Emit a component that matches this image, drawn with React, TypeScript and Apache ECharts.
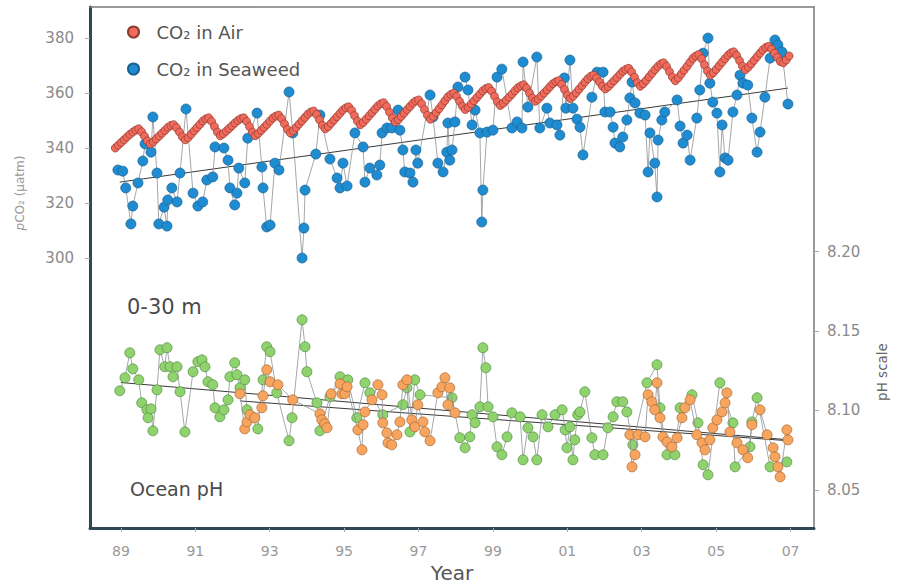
import React, { useEffect, useRef } from "react";
import * as echarts from "echarts";

// ---------- data ----------
const yearTicks = [1989, 1991, 1993, 1995, 1997, 1999, 2001, 2003, 2005, 2007];
const co2Ticks = [300, 320, 340, 360, 380];
const phTicks = [8.05, 8.1, 8.15, 8.2];

// CO2 in air: regularly sampled from airStart every airStep years
const airStart = 1988.85;
const airStep = 0.0784;
const airCO2 = [
  340, 341, 342, 343, 344, 345, 345.8, 346.5,
  347, 345.9, 344.3, 342.6, 341.5, 342.2, 343.3, 344.3, 345.4, 346.4, 347.5, 348.2,
  348.5, 347.4, 345.8, 344.1, 343, 343.8, 345, 346.2, 347.4, 348.6, 349.8, 350.6,
  351, 349.7, 347.8, 345.8, 344.5, 345.2, 346.1, 347.1, 348.1, 349.1, 350, 350.7,
  351, 349.7, 347.8, 345.8, 344.5, 345.3, 346.4, 347.5, 348.6, 349.8, 350.9, 351.6,
  352, 350.7, 348.8, 346.8, 345.5, 346.3, 347.5, 348.7, 349.9, 351.1, 352.3, 353.1,
  353.5, 352.2, 350.3, 348.3, 347, 347.8, 349, 350.2, 351.4, 352.6, 353.8, 354.6,
  355, 353.7, 351.8, 349.8, 348.5, 349.3, 350.5, 351.7, 352.9, 354.1, 355.3, 356.1,
  356.5, 355.1, 353, 350.9, 349.5, 350.3, 351.5, 352.7, 353.9, 355.1, 356.3, 357.1,
  357.5, 356.1, 354, 351.9, 350.5, 351.5, 352.9, 354.3, 355.7, 357.2, 358.6, 359.5,
  360, 358.8, 357, 355.2, 354, 354.8, 356, 357.2, 358.4, 359.6, 360.8, 361.6,
  362, 360.7, 358.8, 356.8, 355.5, 356.3, 357.4, 358.5, 359.6, 360.8, 361.9, 362.6,
  363, 361.8, 360, 358.2, 357, 357.8, 358.9, 360, 361.1, 362.3, 363.4, 364.1,
  364.5, 363.2, 361.3, 359.3, 358, 358.9, 360.1, 361.4, 362.7, 364, 365.2, 366.1,
  366.5, 365.5, 364, 362.5, 361.5, 362.3, 363.4, 364.5, 365.6, 366.8, 367.9, 368.6,
  369, 367.7, 365.8, 363.8, 362.5, 363.4, 364.6, 365.9, 367.2, 368.5, 369.7, 370.6,
  371, 369.7, 367.8, 365.8, 364.5, 365.5, 366.9, 368.3, 369.7, 371.2, 372.6, 373.5,
  374, 372.5, 370.3, 368, 366.5, 367.4, 368.6, 369.9, 371.2, 372.5, 373.7, 374.6,
  375, 373.7, 371.8, 369.8, 368.5, 369.4, 370.6, 371.9, 373.2, 374.5, 375.7, 376.6,
  377, 376, 374.5, 373, 371.5, 371, 372, 373.5,
];

// CO2 in seaweed: [year, pCO2]
const seaweedCO2: [number, number][] = [
  [1988.92, 332.0], [1989.05, 331.6], [1989.13, 325.5], [1989.27, 312.4], [1989.32, 318.9],
  [1989.46, 327.3], [1989.59, 335.3], [1989.65, 341.5], [1989.81, 338.5], [1989.86, 351.3],
  [1989.97, 330.9], [1990.02, 312.4], [1990.16, 318.5], [1990.24, 311.6], [1990.26, 321.1],
  [1990.37, 325.5], [1990.51, 320.4], [1990.59, 330.9], [1990.75, 354.2], [1990.94, 323.6],
  [1991.07, 318.9], [1991.2, 320.4], [1991.31, 328.4], [1991.47, 329.5], [1991.53, 340.4],
  [1991.77, 340.0], [1991.88, 335.6], [1991.93, 325.5], [1992.06, 319.3], [1992.12, 323.6],
  [1992.17, 332.7], [1992.33, 327.3], [1992.41, 343.6], [1992.66, 352.7], [1992.79, 333.1],
  [1992.82, 325.5], [1992.92, 311.3], [1993.01, 312.0], [1993.14, 334.5], [1993.25, 332.0],
  [1993.52, 360.4], [1993.62, 345.5], [1993.87, 300.0], [1993.92, 310.9], [1993.95, 324.7],
  [1994.24, 337.8], [1994.35, 352.0], [1994.62, 336.0], [1994.81, 329.1], [1994.89, 325.5],
  [1994.97, 334.5], [1995.08, 326.2], [1995.29, 345.5], [1995.51, 340.4], [1995.56, 327.6],
  [1995.69, 332.7], [1995.88, 330.2], [1995.96, 333.8], [1996.02, 345.5], [1996.15, 347.3],
  [1996.28, 347.3], [1996.45, 353.8], [1996.5, 346.5], [1996.58, 339.3], [1996.63, 331.3],
  [1996.77, 330.9], [1996.85, 327.6], [1996.93, 339.3], [1996.98, 334.5], [1997.31, 359.3],
  [1997.39, 351.3], [1997.52, 334.5], [1997.66, 331.3], [1997.76, 338.5], [1997.79, 349.1],
  [1997.84, 335.6], [1997.9, 339.3], [1997.98, 349.5], [1998.06, 362.2], [1998.25, 365.8],
  [1998.33, 361.1], [1998.44, 348.4], [1998.52, 353.8], [1998.65, 345.5], [1998.7, 313.1],
  [1998.73, 324.7], [1998.84, 345.8], [1999.0, 346.5], [1999.11, 365.8], [1999.24, 368.7],
  [1999.51, 347.3], [1999.65, 349.5], [1999.78, 347.3], [1999.81, 371.3], [1999.94, 354.9],
  [2000.18, 373.1], [2000.26, 347.3], [2000.45, 354.5], [2000.53, 349.1], [2000.72, 348.4],
  [2000.8, 344.7], [2000.92, 365.5], [2000.96, 354.5], [2001.07, 372.0], [2001.15, 354.5],
  [2001.26, 350.5], [2001.34, 347.6], [2001.42, 337.5], [2001.66, 358.5], [2001.8, 367.6],
  [2001.96, 367.6], [2002.01, 353.1], [2002.15, 353.1], [2002.23, 347.6], [2002.28, 341.8],
  [2002.41, 340.4], [2002.49, 344.0], [2002.6, 350.2], [2002.68, 358.2], [2002.74, 364.0],
  [2002.82, 356.4], [2002.95, 352.7], [2003.09, 352.0], [2003.17, 331.3], [2003.22, 345.5],
  [2003.35, 334.5], [2003.41, 322.2], [2003.44, 342.9], [2003.54, 350.2], [2003.62, 353.1],
  [2003.95, 357.5], [2004.03, 348.0], [2004.11, 341.8], [2004.22, 344.7], [2004.3, 335.6],
  [2004.48, 350.9], [2004.56, 361.1], [2004.65, 374.5], [2004.78, 380.0], [2004.83, 363.6],
  [2004.91, 356.7], [2005.02, 352.7], [2005.1, 331.3], [2005.16, 348.4], [2005.24, 336.4],
  [2005.32, 335.6], [2005.45, 353.1], [2005.56, 359.3], [2005.64, 366.5], [2005.72, 363.6],
  [2005.85, 362.9], [2005.96, 350.9], [2006.1, 338.5], [2006.18, 345.8], [2006.31, 358.5],
  [2006.45, 372.7], [2006.58, 379.3], [2006.66, 377.5], [2006.77, 374.9], [2006.93, 356.0],
];
const seaweedTrend: [number, number][] = [[1988.97, 327.6], [2006.93, 361.8]];

// Ocean pH (green): [year, pH]
const phGreen: [number, number][] = [
  [1988.97, 8.1124], [1989.11, 8.1206], [1989.24, 8.1363], [1989.32, 8.1262], [1989.48, 8.1193],
  [1989.56, 8.1048], [1989.7, 8.1004], [1989.73, 8.0954], [1989.81, 8.101], [1989.86, 8.0872],
  [1989.97, 8.113], [1990.05, 8.1382], [1990.18, 8.1275], [1990.24, 8.1395], [1990.32, 8.1275],
  [1990.4, 8.1212], [1990.51, 8.1275], [1990.59, 8.1118], [1990.72, 8.0865], [1990.94, 8.1244],
  [1991.07, 8.1307], [1991.18, 8.1319], [1991.26, 8.1275], [1991.34, 8.1181], [1991.47, 8.1162],
  [1991.53, 8.1017], [1991.66, 8.096], [1991.77, 8.1004], [1991.88, 8.1067], [1991.93, 8.1212],
  [1992.06, 8.13], [1992.12, 8.1225], [1992.2, 8.1143], [1992.33, 8.1193], [1992.39, 8.1004],
  [1992.68, 8.0884], [1992.82, 8.1193], [1992.92, 8.1401], [1993.01, 8.137], [1993.19, 8.1111],
  [1993.52, 8.0809], [1993.6, 8.0954], [1993.87, 8.1571], [1993.95, 8.1401], [1994.0, 8.1244],
  [1994.27, 8.1048], [1994.35, 8.0872], [1994.62, 8.1086], [1994.89, 8.1212], [1995.1, 8.1193],
  [1995.34, 8.0954], [1995.56, 8.1174], [1995.69, 8.1111], [1996.04, 8.0973], [1996.58, 8.1036],
  [1996.69, 8.1143], [1996.77, 8.0865], [1996.9, 8.1193], [1997.04, 8.1099], [1997.9, 8.108],
  [1998.11, 8.0828], [1998.25, 8.0765], [1998.38, 8.0834], [1998.44, 8.0973], [1998.52, 8.0922],
  [1998.65, 8.1023], [1998.73, 8.1395], [1998.81, 8.1269], [1998.87, 8.1023], [1999.0, 8.096],
  [1999.11, 8.0771], [1999.24, 8.0721], [1999.38, 8.0834], [1999.51, 8.0985], [1999.73, 8.096],
  [1999.81, 8.0689], [1999.94, 8.0891], [2000.08, 8.0834], [2000.18, 8.0689], [2000.32, 8.0973],
  [2000.48, 8.0897], [2000.67, 8.0973], [2000.86, 8.1004], [2000.94, 8.0878], [2000.99, 8.0765],
  [2001.07, 8.0897], [2001.15, 8.0689], [2001.2, 8.0815], [2001.28, 8.0973], [2001.34, 8.0991],
  [2001.47, 8.1118], [2001.66, 8.0828], [2001.74, 8.0721], [2001.96, 8.0721], [2002.09, 8.0891],
  [2002.23, 8.096], [2002.33, 8.1055], [2002.49, 8.1055], [2002.6, 8.0991], [2002.76, 8.0784],
  [2003.14, 8.1174], [2003.41, 8.1288], [2003.49, 8.1017], [2003.68, 8.0721], [2003.89, 8.0721],
  [2004.03, 8.1017], [2004.35, 8.1099], [2004.51, 8.0922], [2004.65, 8.0658], [2004.78, 8.0595],
  [2005.1, 8.1174], [2005.45, 8.0922], [2005.51, 8.0645], [2005.91, 8.0771], [2005.96, 8.0928],
  [2006.1, 8.108], [2006.45, 8.0645], [2006.9, 8.0676],
];
const phGreenTrend: [number, number][] = [[1989.0, 8.1176], [2006.8, 8.0818]];

// Ocean pH (orange), two sampling periods: [year, pH]
const phOrangeEarly: [number, number][] = [
  [1992.2, 8.1105], [1992.33, 8.0884], [1992.39, 8.0928], [1992.47, 8.0973], [1992.6, 8.0954],
  [1992.79, 8.1017], [1992.82, 8.1092], [1992.92, 8.1256], [1993.01, 8.1181], [1993.22, 8.1162],
  [1993.62, 8.1067], [1994.35, 8.0979], [1994.4, 8.0941], [1994.48, 8.0916], [1994.54, 8.0891],
  [1994.65, 8.1105], [1994.89, 8.1168], [1994.94, 8.1105], [1995.02, 8.1105], [1995.08, 8.1149],
  [1995.37, 8.0878], [1995.48, 8.0752], [1995.51, 8.091], [1995.56, 8.0991], [1995.75, 8.1067],
  [1995.91, 8.1162], [1996.02, 8.1099], [1996.04, 8.0922], [1996.15, 8.0859], [1996.18, 8.0796],
  [1996.28, 8.0784], [1996.42, 8.0847], [1996.5, 8.0928], [1996.58, 8.1162], [1996.69, 8.1193],
  [1996.82, 8.0941], [1996.9, 8.0897], [1996.98, 8.1036], [1997.12, 8.0928], [1997.17, 8.0865],
  [1997.31, 8.0809], [1997.52, 8.1111], [1997.63, 8.1149], [1997.71, 8.1206], [1997.79, 8.1036],
  [1997.84, 8.1143], [1997.98, 8.0985],
];
const phOrangeLate: [number, number][] = [
  [2002.68, 8.0847], [2002.74, 8.0645], [2002.82, 8.0721], [2002.9, 8.0847], [2003.09, 8.0834],
  [2003.17, 8.1099], [2003.27, 8.1055], [2003.35, 8.1004], [2003.41, 8.1174], [2003.49, 8.0954],
  [2003.57, 8.0834], [2003.68, 8.0802], [2003.81, 8.0771], [2003.95, 8.0828], [2004.08, 8.0954],
  [2004.16, 8.1017], [2004.3, 8.1067], [2004.48, 8.0847], [2004.62, 8.0796], [2004.7, 8.0752],
  [2004.83, 8.0815], [2004.91, 8.0891], [2005.02, 8.0941], [2005.16, 8.0991], [2005.24, 8.1048],
  [2005.29, 8.1111], [2005.37, 8.0865], [2005.56, 8.0796], [2005.72, 8.0752], [2005.85, 8.0702],
  [2005.96, 8.091], [2006.18, 8.1004], [2006.37, 8.0847], [2006.53, 8.0765], [2006.58, 8.0708],
  [2006.66, 8.0645], [2006.72, 8.0582], [2006.9, 8.0878], [2006.93, 8.0815],
];
const phOrangeTrend: [number, number][] = [[1992.2, 8.106], [2006.9, 8.081]];

const airName = "CO₂ in Air";
const seaweedName = "CO₂ in Seaweed";

// ---------- styles ----------
const FONT = "'DejaVu Sans', 'Liberation Sans', Arial, sans-serif";
const DARK_AXIS = "#2d4856";
const LIGHT_AXIS = "#7a7a7a";
const LINK = "#8d9296";

export default function App() {
  const ref = useRef<HTMLDivElement>(null);

  useEffect(() => {
    if (!ref.current) return;
    const chart = echarts.init(ref.current, null, { renderer: "svg" });

    const airData = airCO2.map((v, i) => [airStart + i * airStep, v]);

    const pointSeries = (
      name: string,
      data: any[],
      yAxisIndex: number,
      color: string,
      border: string,
      size: number,
      lineColor: string,
      z: number
    ) => ({
      name,
      type: "line",
      xAxisIndex: 0,
      yAxisIndex,
      data,
      symbol: "circle",
      symbolSize: size,
      showAllSymbol: true,
      itemStyle: { color, borderColor: border, borderWidth: 0.7 },
      lineStyle: { color: lineColor, width: 0.8 },
      emphasis: { disabled: true },
      z,
    });

    const trend = (data: any[], yAxisIndex: number, z: number) => ({
      type: "line",
      xAxisIndex: 0,
      yAxisIndex,
      data,
      symbol: "none",
      lineStyle: { color: "#3a3a3a", width: 1 },
      emphasis: { disabled: true },
      z,
    });

    const option: any = {
      animation: false,
      backgroundColor: "#ffffff",
      textStyle: { fontFamily: FONT },
      grid: { left: 90, top: 7, width: 724, height: 521, containLabel: false },
      legend: {
        data: [airName, seaweedName],
        orient: "vertical",
        left: 122,
        top: 17,
        itemWidth: 14,
        itemHeight: 11,
        itemGap: 17,
        icon: "circle",
        selectedMode: false,
        textStyle: {
          fontSize: 18,
          color: "#555",
          fontFamily: FONT,
          lineHeight: 20,
          padding: [0, 0, 0, 11],
        },
      },
      xAxis: [
        {
          type: "value",
          position: "bottom",
          min: 1988.17,
          max: 2007.63,
          axisLine: { show: true, onZero: false, lineStyle: { color: DARK_AXIS, width: 3 } },
          axisTick: {
            show: true,
            customValues: yearTicks,
            length: 4,
            lineStyle: { color: "#aaa", width: 1 },
          },
          axisLabel: {
            customValues: yearTicks,
            formatter: (v: number) => String(Math.round(v) % 100).padStart(2, "0"),
            color: "#999",
            fontSize: 14,
            margin: 16,
            fontFamily: FONT,
          },
          splitLine: { show: false },
        },
        {
          type: "value",
          position: "top",
          min: 1988.17,
          max: 2007.63,
          axisLine: { show: true, onZero: false, lineStyle: { color: LIGHT_AXIS, width: 1.5 } },
          axisTick: { show: false },
          axisLabel: { show: false },
          splitLine: { show: false },
        },
      ],
      yAxis: [
        {
          type: "value",
          position: "left",
          min: 201.8,
          max: 391.3,
          axisLine: { show: true, onZero: false, lineStyle: { color: DARK_AXIS, width: 3 } },
          axisTick: {
            show: true,
            customValues: co2Ticks,
            length: 5,
            lineStyle: { color: "#aaa", width: 1 },
          },
          axisLabel: {
            customValues: co2Ticks,
            color: "#8a8a8a",
            fontSize: 15,
            margin: 16,
            fontFamily: FONT,
          },
          splitLine: { show: false },
        },
        {
          type: "value",
          position: "right",
          min: 8.026,
          max: 8.354,
          axisLine: { show: true, onZero: false, lineStyle: { color: LIGHT_AXIS, width: 1.5 } },
          axisTick: {
            show: true,
            customValues: phTicks,
            length: 5,
            lineStyle: { color: "#aaa", width: 1 },
          },
          axisLabel: {
            customValues: phTicks,
            formatter: (v: number) => v.toFixed(2),
            color: "#8a8a8a",
            fontSize: 15,
            margin: 13,
            fontFamily: FONT,
          },
          splitLine: { show: false },
        },
      ],
      graphic: [
        {
          type: "text",
          x: 127,
          y: 307,
          style: {
            text: "0-30 m",
            fontSize: 21,
            fontFamily: FONT,
            fill: "#4a4a4a",
            verticalAlign: "middle",
          },
          z: 10,
        },
        {
          type: "text",
          x: 130,
          y: 489,
          style: {
            text: "Ocean pH",
            fontSize: 19,
            fontFamily: FONT,
            fill: "#4a4a4a",
            verticalAlign: "middle",
          },
          z: 10,
        },
        {
          type: "text",
          x: 452,
          y: 573,
          style: {
            text: "Year",
            fontSize: 20,
            fontFamily: FONT,
            fill: "#555",
            align: "center",
            verticalAlign: "middle",
          },
        },
        {
          type: "text",
          x: 20,
          y: 193,
          rotation: Math.PI / 2,
          style: {
            text: "{i|p}CO₂ (µatm)",
            fontSize: 12,
            fontFamily: FONT,
            fill: "#999",
            align: "center",
            verticalAlign: "middle",
            rich: { i: { fontStyle: "italic", fontSize: 12, fontFamily: FONT, fill: "#999" } },
          },
        },
        {
          type: "text",
          x: 882,
          y: 372,
          rotation: Math.PI / 2,
          style: {
            text: "pH scale",
            fontSize: 13.5,
            fontFamily: FONT,
            fill: "#666",
            align: "center",
            verticalAlign: "middle",
          },
        },
      ],
      series: [
        trend(seaweedTrend, 0, 1),
        pointSeries(seaweedName, seaweedCO2, 0, "#1f8bd0", "#17608f", 10, LINK, 2),
        pointSeries(airName, airData, 0, "#f06b5c", "#8e3a2e", 8, "#555", 3),
        trend(phGreenTrend, 1, 1),
        trend(phOrangeTrend, 1, 1),
        pointSeries("pH green", phGreen, 1, "#8fd26e", "#4f8c3e", 10, LINK, 2),
        pointSeries("pH orange early", phOrangeEarly, 1, "#f6a45e", "#a8662e", 10, LINK, 3),
        pointSeries("pH orange late", phOrangeLate, 1, "#f6a45e", "#a8662e", 10, LINK, 3),
      ],
    };

    chart.setOption(option);
    return () => chart.dispose();
  }, []);

  return (
    <div
      ref={ref}
      style={{ position: "fixed", left: 0, top: 0, width: 899, height: 585, background: "#fff" }}
    />
  );
}
